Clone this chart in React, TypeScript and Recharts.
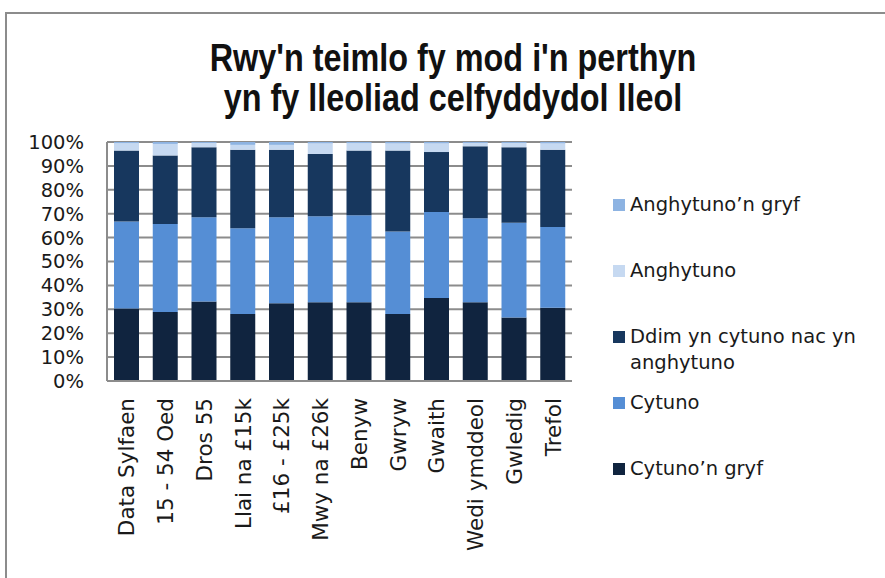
import React from "react"
import { BarChart, Bar, XAxis, YAxis, CartesianGrid, Legend } from "recharts"

document.body.style.margin = "0"

const categories = [
  "Data Sylfaen",
  "15 - 54 Oed",
  "Dros 55",
  "Llai na £15k",
  "£16 - £25k",
  "Mwy na £26k",
  "Benyw",
  "Gwryw",
  "Gwaith",
  "Wedi ymddeol",
  "Gwledig",
  "Trefol",
]

// percentages, bottom of the stack first
const cytunoGryf = [30.3, 28.9, 33.3, 28.0, 32.5, 32.9, 32.9, 28.0, 34.7, 32.9, 26.6, 30.7]
const cytuno = [36.4, 36.8, 35.2, 35.9, 36.0, 36.0, 36.4, 34.6, 36.0, 35.2, 39.6, 33.7]
const ddim = [29.7, 28.7, 29.3, 32.9, 28.3, 26.1, 27.1, 33.8, 25.1, 30.1, 31.6, 32.4]
const anghytuno = [3.1, 4.8, 1.8, 2.0, 2.0, 4.4, 3.1, 3.0, 3.6, 1.4, 1.8, 2.6]
const anghytunoGryf = [0.5, 0.8, 0.4, 1.2, 1.2, 0.6, 0.5, 0.6, 0.6, 0.4, 0.4, 0.6]

const yTicks = [0, 0.1, 0.2, 0.3, 0.4, 0.5, 0.6, 0.7, 0.8, 0.9, 1]

const series = [
  { key: "cytunoGryf", name: "Cytuno’n gryf", color: "#10243f", values: cytunoGryf },
  { key: "cytuno", name: "Cytuno", color: "#558ed5", values: cytuno },
  { key: "ddim", name: "Ddim yn cytuno nac yn anghytuno", color: "#17375e", values: ddim },
  { key: "anghytuno", name: "Anghytuno", color: "#c6d9f1", values: anghytuno },
  { key: "anghytunoGryf", name: "Anghytuno’n gryf", color: "#8db3e2", values: anghytunoGryf },
]

const data = categories.map((name, i) => {
  const row: Record<string, any> = { name }
  series.forEach((s) => {
    row[s.key] = s.values[i]
  })
  return row
})

const FONT = "'DejaVu Sans', sans-serif"
const AXIS = "#8c8c8c"

const XTick = (props: any) => {
  const { x, y, payload } = props
  return (
    <text
      transform={`translate(${x + 8},${y + 9}) rotate(-90)`}
      textAnchor="end"
      fontFamily={FONT}
      fontSize={21.5}
      fill="#1a1a1a"
    >
      {payload.value}
    </text>
  )
}

// legend lists the top of the stack first
const LegendBox = () => {
  const items = [...series].reverse()
  const lines: Record<string, string[]> = {
    "Ddim yn cytuno nac yn anghytuno": ["Ddim yn cytuno nac yn", "anghytuno"],
  }
  return (
    <div style={{ fontFamily: FONT, fontSize: 19.5, color: "#1a1a1a" }}>
      {items.map((it) => {
        const txt = lines[it.name] || [it.name]
        return (
          <div key={it.key} style={{ height: 66, position: "relative" }}>
            <span
              style={{
                position: "absolute",
                left: 0,
                top: 6,
                width: 12,
                height: 12,
                background: it.color,
              }}
            />
            <div style={{ position: "absolute", left: 17, top: -1, lineHeight: "26px", whiteSpace: "nowrap" }}>
              {txt.map((t) => (
                <div key={t}>{t}</div>
              ))}
            </div>
          </div>
        )
      })}
    </div>
  )
}

export default function App() {
  return (
    <div style={{ position: "relative", width: 885, height: 578, background: "#fff", overflow: "hidden" }}>
      <div
        style={{
          position: "absolute",
          left: 5,
          top: 12,
          width: 1000,
          height: 1000,
          borderLeft: `2px solid ${AXIS}`,
          borderTop: `2px solid ${AXIS}`,
        }}
      />
      <div
        style={{
          position: "absolute",
          left: 0,
          width: 906,
          top: 38,
          textAlign: "center",
          fontFamily: "'Liberation Sans', sans-serif",
          fontWeight: "bold",
          fontSize: 39,
          lineHeight: "40px",
          color: "#111",
          transform: "scaleX(0.83)",
          transformOrigin: "453px 0",
        }}
      >
        Rwy'n teimlo fy mod i'n perthyn
        <br />
        yn fy lleoliad celfyddydol lleol
      </div>
      <div style={{ position: "absolute", left: 0, top: 0 }}>
        <BarChart
          width={885}
          height={578}
          data={data}
          stackOffset="expand"
          margin={{ top: 142, right: 313, left: 27, bottom: 0 }}
        >
          <CartesianGrid vertical={false} stroke={AXIS} strokeWidth={2} />
          <XAxis
            dataKey="name"
            interval={0}
            height={197}
            tick={<XTick />}
            tickLine={false}
            axisLine={{ stroke: AXIS, strokeWidth: 2 }}
          />
          <YAxis
            width={80}
            domain={[0, 1]}
            ticks={yTicks}
            interval={0}
            tickFormatter={(v) => `${Math.round(v * 100)}%`}
            tick={{ fontFamily: FONT, fontSize: 19.5, fill: "#1a1a1a" }}
            tickLine={false}
            tickMargin={17}
            axisLine={{ stroke: AXIS, strokeWidth: 2 }}
          />
          <YAxis
            yAxisId="r"
            orientation="right"
            width={0}
            tick={false}
            tickLine={false}
            axisLine={{ stroke: AXIS, strokeWidth: 2 }}
          />
          <Legend
            layout="vertical"
            align="center"
            verticalAlign="middle"
            content={<LegendBox />}
            wrapperStyle={{ left: 613, top: 193, width: 270 }}
          />
          {series.map((s) => (
            <Bar
              key={s.key}
              dataKey={s.key}
              name={s.name}
              stackId="a"
              fill={s.color}
              barSize={25}
              isAnimationActive={false}
            />
          ))}
        </BarChart>
      </div>
    </div>
  )
}
